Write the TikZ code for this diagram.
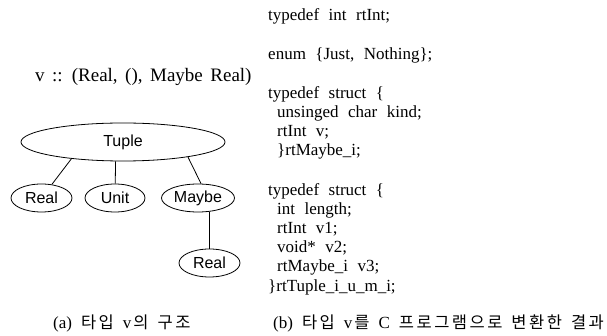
\documentclass[tikz,border=0pt]{standalone}
\usepackage{fontspec}
\setmainfont{Liberation Serif}
\newfontfamily\sansf{Liberation Sans}
\newfontfamily\kr{Noto Sans CJK KR}
\usetikzlibrary{shapes.geometric}
\newcommand\hk{\kern2.5pt}
\newcommand\kt[1]{{\kr\fontsize{16.5}{16.5}\selectfont #1}}
\newcommand\codefont{\fontsize{17}{17}\selectfont\spaceskip 9.5pt\relax}
\newcommand\capfont{\fontsize{17}{17}\selectfont\spaceskip 9pt\relax}
\newcommand\titlefont{\fontsize{19}{19}\selectfont\spaceskip 7.5pt\relax}
\begin{document}
\begin{tikzpicture}[x=1pt,y=-1pt,
  tnode/.style={draw, ellipse, inner sep=0pt, line width=0.8pt, font=\sansf\fontsize{16}{16}\selectfont},
  codeline/.style={anchor=base west, inner sep=0pt, font=\codefont},
  caption/.style={anchor=base west, inner sep=0pt, font=\capfont},
  edge/.style={line width=0.8pt}]
\useasboundingbox[fill=white] (0,0) rectangle (607,336);

% title
\node[anchor=base west, inner sep=0pt, font=\titlefont] (title) at (35,82) {v :: (Real, (), Maybe Real)};

% tree
\node[tnode, minimum width=204pt, minimum height=38pt] (tuple) at (123,142) {Tuple};
\node[tnode, minimum width=61pt, minimum height=28pt] (r1) at (41.5,198) {Real};
\node[tnode, minimum width=60pt, minimum height=28pt] (unit) at (115,198) {Unit};
\node[tnode, minimum width=73pt, minimum height=28pt] (maybe) at (198,198) {Maybe};
\node[tnode, minimum width=61pt, minimum height=28pt] (r2) at (209.5,263) {Real};

\draw[edge] (tuple.198) -- (r1);
\draw[edge] (tuple.249) -- (unit);
\draw[edge] (tuple.347) -- (maybe.78);
\draw[edge] (r2.north) -- (r2.north |- maybe.south);

% code
\node[codeline] (c1) at (268,21) {typedef int rtInt;};
\node[codeline] (c2) at (268,60) {enum \{Just, Nothing\};};
\node[codeline] (c3) at (268,99) {typedef struct \{};
\node[codeline] (c4) at (277,118) {unsinged char kind;};
\node[codeline] (c5) at (277,137) {rtInt v;};
\node[codeline] (c6) at (277,156) {\}rtMaybe\_i;};
\node[codeline] (c7) at (268,196) {typedef struct \{};
\node[codeline] (c8) at (277,215) {int length;};
\node[codeline] (c9) at (277,234) {rtInt v1;};
\node[codeline] (c10) at (277,253) {void* v2;};
\node[codeline] (c11) at (277,272) {rtMaybe\_i v3;};
\node[codeline] (c12) at (268,291) {\}rtTuple\_i\_u\_m\_i;};

% captions
\node[caption] (capa) at (53,328) {(a) \kt{타\hk 입} v\kern2pt\kt{의} \kt{구\hk 조}};
\node[caption] (capb) at (273,328) {(b) \kt{타\hk 입} v\kern2pt\kt{를} C \kt{프\hk 로\hk 그\hk 램\hk 으\hk 로} \kt{변\hk 환\hk 한} \kt{결\hk 과}};
\end{tikzpicture}
\end{document}
